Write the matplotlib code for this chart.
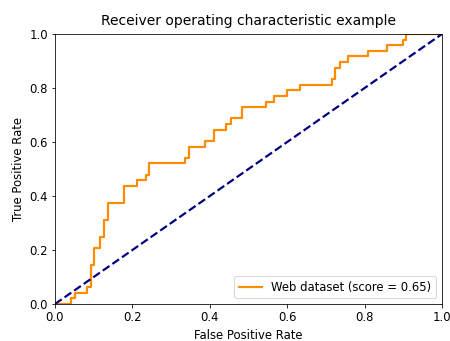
import numpy as np
import matplotlib
matplotlib.use('Agg')
import matplotlib.pyplot as plt

### ROC curve vertices
fpr = [0.0, 0.041, 0.041, 0.052, 0.052, 0.082, 0.082, 0.093, 0.093, 0.102, 0.102,
       0.115, 0.115, 0.126, 0.126, 0.138, 0.138, 0.178, 0.178, 0.211, 0.211,
       0.235, 0.235, 0.244, 0.244, 0.336, 0.336, 0.346, 0.346, 0.388, 0.388,
       0.411, 0.411, 0.442, 0.442, 0.455, 0.455, 0.482, 0.482, 0.545, 0.545,
       0.567, 0.567, 0.600, 0.600, 0.634, 0.634, 0.717, 0.717, 0.723, 0.723,
       0.736, 0.736, 0.758, 0.758, 0.810, 0.810, 0.857, 0.857, 0.898, 0.898,
       0.906, 0.906, 1.0]
tpr = [0.0, 0.0, 0.021, 0.021, 0.042, 0.042, 0.0625, 0.0625, 0.146, 0.146, 0.208,
       0.208, 0.25, 0.25, 0.3125, 0.3125, 0.375, 0.375, 0.4375, 0.4375, 0.458,
       0.458, 0.479, 0.479, 0.521, 0.521, 0.542, 0.542, 0.583, 0.583, 0.604,
       0.604, 0.646, 0.646, 0.667, 0.667, 0.6875, 0.6875, 0.729, 0.729, 0.75,
       0.75, 0.771, 0.771, 0.792, 0.792, 0.8125, 0.8125, 0.833, 0.833, 0.875,
       0.875, 0.896, 0.896, 0.917, 0.917, 0.9375, 0.9375, 0.958, 0.958, 0.979,
       0.979, 1.0, 1.0]
score = 0.65

plt.rcParams['font.size'] = 11.6

fig = plt.figure(figsize=(450 / 72, 341 / 72), dpi=72)
ax = fig.add_axes([55 / 450, 1 - 304 / 341, 387 / 450, 270 / 341])
ax.plot(fpr, tpr, color='darkorange', lw=2.2, label='Web dataset (score = %0.2f)' % score)
ax.plot([0, 1], [0, 1], color='navy', lw=2.2, linestyle='--')
ax.set_xlim([0.0, 1.0])
ax.set_ylim([0.0, 1.0])
ax.set_xlabel('False Positive Rate', labelpad=5)
ax.set_ylabel('True Positive Rate')
ax.set_title('Receiver operating characteristic example', pad=9)
ax.legend(loc='lower right')
fig.savefig('out.png', dpi=72)
